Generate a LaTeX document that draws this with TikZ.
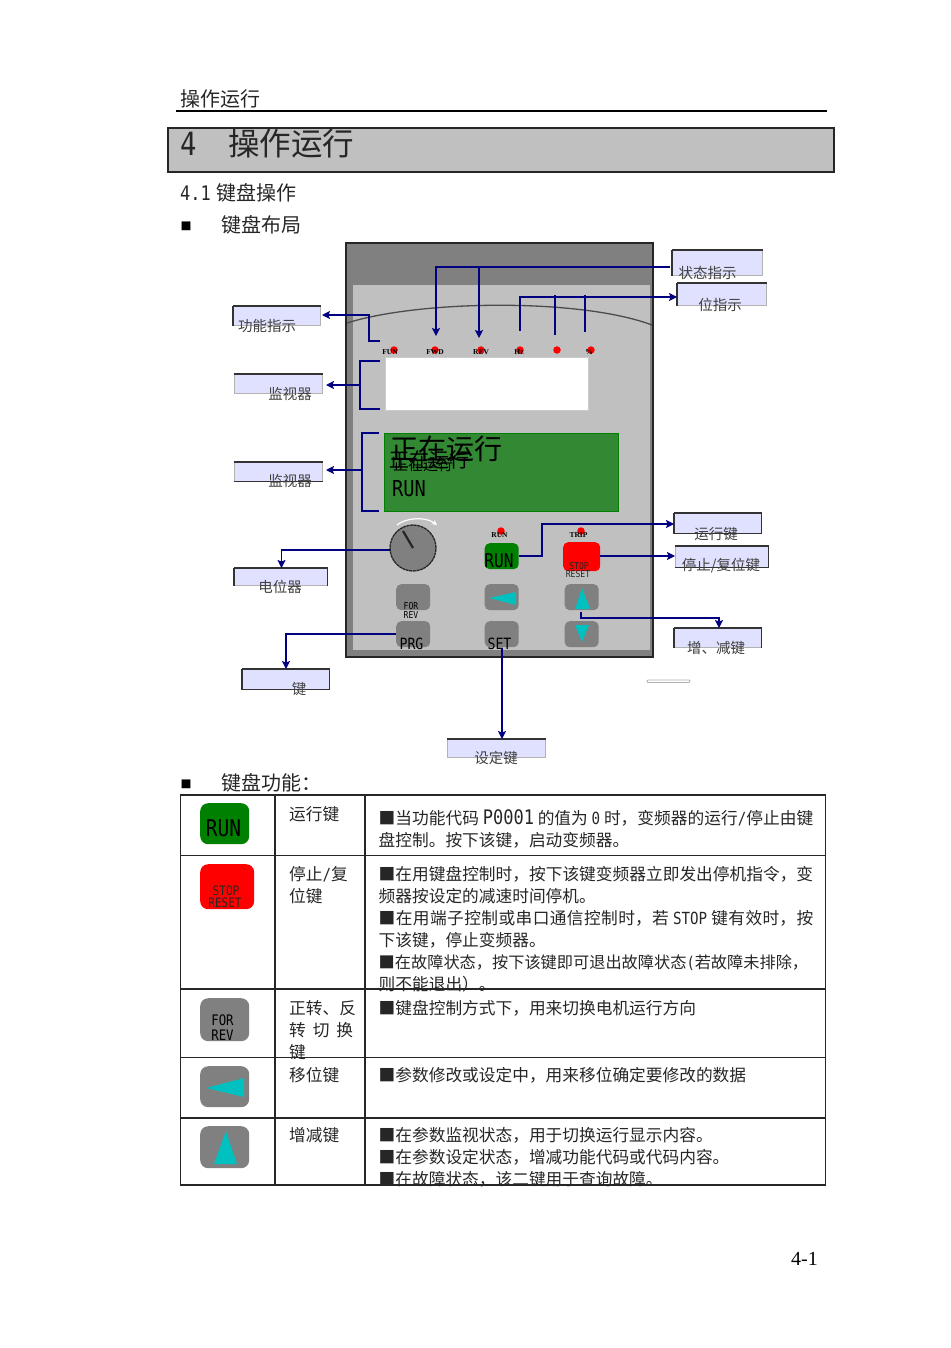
\documentclass[tikz,border=0pt]{standalone}
\usepackage{fontspec}
\usepackage{xcolor}
\usetikzlibrary{arrows.meta}
\setmainfont{Noto Sans CJK SC}
\newfontfamily\keyfont[FakeStretch=0.85]{DejaVu Sans Mono}
\newfontfamily\ledfont{Liberation Serif}
\XeTeXlinebreaklocale "zh"
\XeTeXlinebreakskip=0pt plus 2pt
\definecolor{boxblue}{HTML}{E0E0FF}
\definecolor{wirenavy}{HTML}{000080}
\definecolor{panelgray}{HTML}{808080}
\definecolor{facegray}{HTML}{C0C0C0}
\definecolor{lcdgreen}{HTML}{338833}
\definecolor{keycyan}{HTML}{00C0C0}
\newcommand{\fs}[2]{\fontsize{#1}{#2}\selectfont}
\tikzset{
  wire/.style={draw=wirenavy, line width=1.3pt},
  wirearrow/.style={wire, -{Stealth[length=8pt,width=8pt,inset=1.5pt]}},
  labelbox/.style={fill=boxblue, draw=black!30, line width=.7pt, anchor=north west, inner sep=0pt},
  boxedge/.style={draw=black!80, line width=1.1pt},
  labeltext/.style={text=black!75, inner sep=0pt, font=\fs{14.5}{16}},
  ledlamp/.style={circle, fill=red, minimum size=7.5pt, inner sep=0pt},
  ledtext/.style={inner sep=0pt, font=\ledfont\bfseries\fs{7.5}{8}},
  keygray/.style={fill=panelgray, rounded corners=5pt, anchor=north west, inner sep=0pt},
  keytext/.style={inner sep=0pt, font=\keyfont\fs{#1}{#1}},
  keytext/.default=11,
  tablekey/.style={rounded corners=8pt, anchor=north west, inner sep=0pt, minimum width=49pt},
  bodytext/.style={anchor=north west, inner sep=0pt, text width=434.5pt, align=justify, text=black!85, font=\fs{16.7}{22}},
  sidetext/.style={anchor=north west, inner sep=0pt, align=left, text=black!85, font=\fs{16.7}{22}},
  headtext/.style={anchor=west, inner sep=0pt, text=black!85, font=\fs{20}{24}},
}
\begin{document}
\begin{tikzpicture}[x=1pt,y=-1pt]
  \useasboundingbox (0,0) rectangle (950,1348);

  % 页眉和标题
  \node[headtext] (pagehead) at (180,98.5) {操作运行};
  \draw[line width=1.3pt] (176,111) -- (827,111);
  \draw[fill=facegray, line width=1.3pt, draw=black!85] (168,128) rectangle (834,172);
  \node[anchor=west, inner sep=0pt, text=black!85, font=\keyfont\fs{32}{34}] (chapnum) at (180,144) {4};
  \node[anchor=west, inner sep=0pt, text=black!85, font=\fs{31.5}{34}] (chaptitle) at (228,143.5) {操作运行};
  \node[headtext] (secthead) at (180,192.5) {{\keyfont 4.1}\hspace{6pt}键盘操作};
  \node[anchor=center, inner sep=0pt, font=\fs{11}{12}] (markone) at (186,226) {■};
  \node[headtext] (layouthead) at (221,224.5) {键盘布局};
  \node[anchor=center, inner sep=0pt, font=\fs{11}{12}] (marktwo) at (186,784) {■};
  \node[headtext] (funchead) at (221,782.5) {键盘功能：};

  % 面板
  \fill[panelgray] (345,242) rectangle (653,657);
  \fill[facegray] (353,285) rectangle (650,650);
  \draw[black!85, line width=1.2pt] (653,242) -- (653,657) -- (345,657);
  \draw[black!85, line width=2.5pt] (346,657) -- (346,243) -- (653,243);
  \draw[black!70, line width=1.3pt] (347,323) .. controls (420,300) and (580,298) .. (652,325);

  % 指示灯
  \foreach \lname/\lx/\ltxt/\tx in {fun/394/FUN/390, fwd/435/FWD/435, rev/481/REV/481, hz/520/Hz/519, mid/557//557, pct/591/\%/589} {
    \node[ledlamp] (\lname led) at (\lx,350) {};
    \node[ledtext] (\lname text) at (\tx,352.5) {\ltxt};
  }

  % 显示窗
  \node[fill=white, draw=black!20, anchor=north west, inner sep=0pt, minimum width=203pt, minimum height=53pt] (monitor) at (385,357) {};
  \node[fill=lcdgreen, draw=green!50!black, line width=1.2pt, anchor=north west, inner sep=0pt, minimum width=234pt, minimum height=78pt] (lcd) at (384,433) {};
  \node[anchor=west, inner sep=0pt, font=\fs{28}{30}] (lcdbig) at (390,449) {正在运行};
  \node[anchor=west, inner sep=0pt, font=\fs{20}{22}] (lcdmid) at (389,460) {正在运行};
  \node[anchor=west, inner sep=0pt, font=\fs{15}{16}] (lcdsmall) at (393,465) {正在运行};
  \node[anchor=west, inner sep=0pt, keytext=22] (lcdrun) at (392,489) {RUN};

  % 电位器
  \node[circle, fill=panelgray, draw=black!85, dash pattern=on 3pt off .6pt, line width=1.3pt, minimum size=46pt, inner sep=0pt] (knob) at (413,548) {};
  \coordinate (knobtip) at (403,531);
  \draw[line width=2.2pt, black!85] (knobtip) -- (knob.center);
  \draw[white, line width=1.2pt, -{Stealth[length=5pt,width=5pt]}] (397,525) .. controls (405,518) and (425,516) .. (437,525);

  % 按键
  \node[ledlamp] (runled) at (501,531) {};
  \node[ledtext] (runledtext) at (499.5,535) {RUN};
  \node[ledlamp] (tripled) at (581,531) {};
  \node[ledtext] (tripledtext) at (578.5,535) {TRIP};
  \node[keygray, fill=green!50!black, minimum width=34pt, minimum height=26pt] (runkey) at (484.5,543) {};
  \node[keytext=19] (runkeytext) at (499,561) {RUN};
  \node[keygray, fill=red, minimum width=37pt, minimum height=29pt] (stopkey) at (563,542) {};
  \node[keytext=9.5, text=black!85] (stopkeytext) at (579,566) {STOP};
  \node[keytext=9.5, text=black!85] (resetkeytext) at (578,574.5) {RESET};
  \node[keygray, minimum width=34pt, minimum height=26pt] (forkey) at (396,584) {};
  \node[keytext=9.5] (fortext) at (411,606) {FOR};
  \node[keytext=9.5] (revtext) at (411,615.5) {REV};
  \node[keygray, minimum width=34pt, minimum height=26pt] (shiftkey) at (484.5,584) {};
  \fill[keycyan] (489,598) -- (516,592) -- (516,605) -- cycle;
  \node[keygray, minimum width=34pt, minimum height=26pt] (upkey) at (564.5,584) {};
  \fill[keycyan] (582,588) -- (575,609) -- (590,609) -- cycle;
  \node[keygray, minimum width=34pt, minimum height=26pt] (prgkey) at (396,621) {};
  \node[keytext=15.5] (prgtext) at (411.5,643.5) {PRG};
  \node[keygray, minimum width=34pt, minimum height=26pt] (setkey) at (484.5,621) {};
  \node[keytext=15.5] (settext) at (499.5,643.5) {SET};
  \node[keygray, minimum width=34pt, minimum height=26pt] (downkey) at (564.5,621) {};
  \fill[keycyan] (575,625) -- (589,625) -- (582,642) -- cycle;

  % 标注框
  \node[labelbox, minimum width=90pt, minimum height=25pt] (statebox) at (672,250) {};
  \node[labelbox, minimum width=89pt, minimum height=22pt] (bitbox) at (677,283) {};
  \node[labelbox, minimum width=87pt, minimum height=19pt] (funcbox) at (233,306) {};
  \node[labelbox, minimum width=88pt, minimum height=19pt] (monibox) at (234,374) {};
  \node[labelbox, minimum width=88pt, minimum height=19pt] (lcdbox) at (234,462) {};
  \node[labelbox, minimum width=87pt, minimum height=20pt] (runbox) at (674,513) {};
  \node[labelbox, minimum width=93pt, minimum height=21pt] (stopbox) at (675,546) {};
  \node[labelbox, minimum width=87pt, minimum height=19pt] (updownbox) at (674,628) {};
  \node[labelbox, minimum width=93pt, minimum height=17pt] (potbox) at (234,568) {};
  \node[labelbox, minimum width=87pt, minimum height=20pt] (prgbox) at (242,669) {};
  \node[labelbox, minimum width=98pt, minimum height=18pt] (setbox) at (447,739) {};
  \foreach \bname in {statebox,bitbox,funcbox,monibox,lcdbox,runbox,stopbox,updownbox,potbox,prgbox,setbox}
    \draw[boxedge] (\bname.north west) -- (\bname.north east);
  \foreach \bname in {statebox,bitbox,funcbox,runbox,updownbox,potbox,prgbox}
    \draw[boxedge] (\bname.north west) -- (\bname.south west);
  \foreach \bname in {runbox,stopbox,updownbox,potbox,prgbox}
    \draw[boxedge] (\bname.north east) -- (\bname.south east);
  \foreach \bname in {lcdbox,runbox,stopbox,prgbox}
    \draw[boxedge] (\bname.south west) -- (\bname.south east);
  \draw[black!30, line width=.8pt, fill=white, rounded corners=1pt] (647,680) rectangle (690,682.5);

  \node[labeltext] (statetext) at (707.5,272.5) {状态指示};
  \node[labeltext] (bittext) at (720,304.5) {位指示};
  \node[labeltext] (functext) at (267,325.5) {功能指示};
  \node[labeltext] (monitext) at (290,394) {监视器};
  \node[labeltext] (lcdboxtext) at (290,481) {监视器};
  \node[labeltext] (runboxtext) at (716,533.5) {运行键};
  \node[labeltext] (stopboxtext) at (721,565.5) {停止/复位键};
  \node[labeltext] (updowntext) at (716,647.5) {增、减键};
  \node[labeltext] (pottext) at (280,586.5) {电位器};
  \node[labeltext] (prgboxtext) at (299,688.5) {键};
  \node[labeltext] (setboxtext) at (496,757.5) {设定键};

  % 连线
  \coordinate (statefrom) at (670,267);
  \coordinate (statejoin) at (479,267);
  \coordinate (fwdtip) at (436,336);
  \coordinate (revtip) at (479,338);
  \draw[wirearrow] (statefrom) -| (fwdtip);
  \draw[wirearrow] (statejoin) -- (revtip);

  \coordinate (bitleft) at (520,331);
  \coordinate (bittop) at (520,297);
  \coordinate (bitmidup) at (555,295);
  \coordinate (bitmiddown) at (555,335);
  \coordinate (bitrightup) at (585,295);
  \coordinate (bitrightdown) at (585,332);
  \draw[wirearrow] (bitleft) -- (bittop) -- (bittop -| bitbox.west);
  \draw[wire] (bitmidup) -- (bitmiddown);
  \draw[wire] (bitrightup) -- (bitrightdown);

  \coordinate (funcfoot) at (380,341);
  \coordinate (funcbend) at (369,315);
  \coordinate (functip) at (322,315);
  \draw[wirearrow] (funcfoot) -| (funcbend) -- (functip);

  \coordinate (moniup) at (380,361);
  \coordinate (monidown) at (380,409);
  \coordinate (monimid) at (360,385);
  \coordinate (monitip) at (326,385);
  \draw[wire] (moniup) -| (monimid) |- (monidown);
  \draw[wirearrow] (monimid) -- (monitip);

  \coordinate (lcdup) at (379,433);
  \coordinate (lcddown) at (379,511);
  \coordinate (lcdmidpt) at (362,470);
  \coordinate (lcdtip) at (326,470);
  \draw[wire] (lcdup) -| (lcdmidpt) |- (lcddown);
  \draw[wirearrow] (lcdmidpt) -- (lcdtip);

  \coordinate (knobout) at (390,550);
  \coordinate (pottip) at (281.5,568);
  \draw[wirearrow] (knobout) -| (pottip);
  \coordinate (runout) at (519,556);
  \coordinate (runbend) at (542,524);
  \draw[wirearrow] (runout) -| (runbend) -- (runbend -| runbox.west);
  \draw[wirearrow] (stopkey.east |- runout) -- (runout -| stopbox.west);
  \coordinate (updownout) at (581,612);
  \coordinate (updownbend) at (581,618);
  \coordinate (updowntip) at (719,628);
  \draw[wirearrow] (updownout) -- (updownbend) -| (updowntip);
  \coordinate (prgout) at (396,634);
  \coordinate (prgtip) at (286,669);
  \draw[wirearrow] (prgout) -| (prgtip);
  \coordinate (setout) at (502,648);
  \coordinate (settip) at (502,739);
  \draw[wirearrow] (setout) -- (settip);

  % 功能表
  \draw[line width=1.2pt, black!85] (180.5,795) rectangle (825.5,1185);
  \foreach \rowy in {855.5,989,1057.5,1118}
    \draw[line width=1.2pt, black!85] (180.5,\rowy) -- (825.5,\rowy);
  \foreach \colx in {275,365}
    \draw[line width=1.2pt, black!85] (\colx,795) -- (\colx,1185);

  % 表内按键
  \node[tablekey, fill=green!50!black, minimum height=41pt] (tabrun) at (200,803) {};
  \node[keytext=23] (tabruntext) at (223.5,828) {RUN};
  \node[tablekey, fill=red, minimum width=54pt, minimum height=45pt] (tabstop) at (200,864) {};
  \node[keytext=13, text=black!85] (tabstoptext) at (226,891) {STOP};
  \node[keytext=13, text=black!85] (tabresettext) at (225,903) {RESET};
  \node[tablekey, fill=panelgray, minimum height=43pt] (tabfor) at (200,998) {};
  \node[keytext=14.5] (tabfortext) at (222.5,1020.5) {FOR};
  \node[keytext=14.5] (tabrevtext) at (222.5,1035) {REV};
  \node[tablekey, fill=panelgray, minimum height=41pt] (tabshift) at (200,1066) {};
  \fill[keycyan] (206,1088) -- (244,1078) -- (244,1097) -- cycle;
  \node[tablekey, fill=panelgray, minimum height=42pt] (tabup) at (200,1126) {};
  \fill[keycyan] (226,1131) -- (214,1164) -- (237,1164) -- cycle;

  % 表内文字
  \node[sidetext] (namerun) at (289,806) {运行键};
  \node[sidetext] (namestop) at (289,866) {停止{\keyfont /}复\\位键};
  \node[sidetext] (namefor) at (289,1000) {正转、反\\\makebox[64pt][s]{转 切 换}\\键};
  \node[sidetext] (nameshift) at (289,1067) {移位键};
  \node[sidetext] (nameup) at (289,1127) {增减键};

  \node[bodytext] (textrun) at (378.5,809) {■当功能代码 {\keyfont\fs{20}{22}P0001} 的值为 {\keyfont 0} 时，变频器的运行{\keyfont /}停止由键盘控制。按下该键，启动变频器。};
  \node[bodytext] (textstop) at (378.5,866) {■在用键盘控制时，按下该键变频器立即发出停机指令，变频器按设定的减速时间停机。\\■在用端子控制或串口通信控制时，若 {\keyfont STOP} 键有效时，按下该键，停止变频器。\\{\fs{16.2}{22}■在故障状态，按下该键即可退出故障状态{\keyfont (}若故障未排除，}\\则不能退出）。};
  \node[bodytext] (textfor) at (378.5,1000) {■键盘控制方式下，用来切换电机运行方向};
  \node[bodytext] (textshift) at (378.5,1067) {■参数修改或设定中，用来移位确定要修改的数据};
  \node[bodytext] (textup) at (378.5,1127) {■在参数监视状态，用于切换运行显示内容。\\■在参数设定状态，增减功能代码或代码内容。\\■在故障状态，该二键用于查询故障。};

  % 页码
  \node[anchor=west, inner sep=0pt, font=\ledfont\fs{20}{22}] (pagenum) at (791,1259) {4-1};
\end{tikzpicture}
\end{document}
